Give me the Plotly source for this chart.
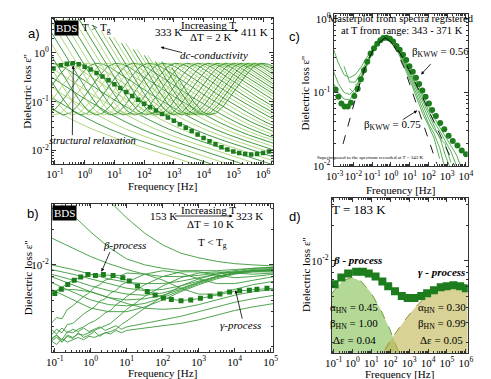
import numpy as np
import plotly.graph_objects as go

W, H = 491, 379
FONT = "Liberation Serif, Times New Roman, serif"

# ---------------- Panel a data ----------------
# peak positions (log10 f) of the structural relaxation, 333 K ... 411 K (step 2 K)
a_peak_logf = [-3.75, -3.16, -2.61, -2.10, -1.62, -1.17, -0.75, -0.35, 0.02, 0.37,
               0.70, 1.02, 1.32, 1.60, 1.87, 2.12, 2.37, 2.60, 2.82, 3.04,
               3.24, 3.43, 3.62, 3.80, 3.97, 4.14, 4.30, 4.45, 4.60, 4.74,
               4.88, 5.01, 5.14, 5.26, 5.38, 5.50, 5.61, 5.72, 5.82, 5.93]
# spectral shape read relative to the loss peak (decades from peak, log10 eps'')
a_shape_dx = [-7.0, -5.0, -4.5, -4.375, -4.25, -4.125, -4.0, -3.875, -3.75, -3.625,
              -3.5, -3.375, -3.25, -3.125, -3.0, -2.875, -2.75, -2.625, -2.5, -2.25,
              -2.0, -1.75, -1.5, -1.25, -1.0, -0.75, -0.5, -0.25, 0.0, 0.25,
              0.5, 0.75, 1.0, 1.5, 2.0, 2.5, 3.0, 3.5, 4.0, 4.5,
              5.0, 6.0, 7.0, 8.0, 9.0, 10.0, 11.0]
a_shape_log = [3.7, 1.7, 1.2, 1.075, 0.95, 0.825, 0.7, 0.575, 0.45, 0.325,
               0.2, 0.075, -0.05, -0.175, -0.3, -0.425, -0.55, -0.675, -0.79, -1.01,
               -1.19, -1.27, -1.23, -1.08, -0.88, -0.655, -0.45, -0.28, -0.21, -0.23,
               -0.3, -0.4, -0.5, -0.7, -0.9, -1.08, -1.26, -1.42, -1.56, -1.68,
               -1.79, -1.99, -2.19, -2.39, -2.59, -2.79, -2.99]
# upper end of the measured dc-conductivity branches
a_dc_cut_logf = [-0.15, 2.64]
a_dc_cut_log = [0.72, -0.18]
# highlighted spectrum (squares)
a_sq_logf = [-1.05, -0.8, -0.6, -0.4, -0.2, 0.0, 0.2, 0.4, 0.6, 0.8, 1.0, 1.2, 1.4,
             1.6, 1.8, 2.0, 2.2, 2.4, 2.6, 2.8, 3.0, 3.2, 3.4, 3.6, 3.8, 4.0, 4.2,
             4.4, 4.6, 4.8, 5.0, 5.2, 5.4, 5.6, 5.8, 6.0, 6.2]
a_sq_log = [-0.32, -0.25, -0.22, -0.21, -0.23, -0.28, -0.34, -0.41, -0.48, -0.56, -0.64,
            -0.72, -0.8, -0.88, -0.96, -1.04, -1.11, -1.18, -1.25, -1.32, -1.39, -1.46,
            -1.53, -1.6, -1.67, -1.74, -1.81, -1.87, -1.93, -1.98, -2.02, -2.05, -2.07,
            -2.08, -2.07, -2.05, -2.02]

# ---------------- Panel b data ----------------
b_grid_logf = [-1.1, -0.5, 0.0, 0.5, 1.0, 1.5, 2.0, 2.5, 3.0, 3.5, 4.0, 4.5, 5.1]
b_curves = {
    173: [-2.22, -2.21, -2.23, -2.28, -2.33, -2.37, -2.38, -2.37, -2.34, -2.30, -2.26, -2.23, -2.21],
    183: [-2.25, -2.13, -2.085, -2.088, -2.13, -2.215, -2.28, -2.306, -2.29, -2.256, -2.226, -2.213, -2.20],
    243: [-2.21, -2.30, -2.37, -2.40, -2.40, -2.36, -2.30, -2.23, -2.17, -2.12, -2.08, -2.06, -2.05],
    253: [-2.15, -2.23, -2.30, -2.34, -2.35, -2.33, -2.28, -2.22, -2.16, -2.11, -2.07, -2.05, -2.05],
    263: [-2.10, -2.17, -2.23, -2.28, -2.30, -2.29, -2.26, -2.21, -2.15, -2.10, -2.07, -2.05, -2.04],
    273: [-2.08, -2.13, -2.18, -2.22, -2.25, -2.26, -2.24, -2.20, -2.15, -2.10, -2.07, -2.05, -2.04],
    283: [-2.04, -2.08, -2.12, -2.16, -2.20, -2.22, -2.21, -2.18, -2.14, -2.10, -2.07, -2.05, -2.04],
    293: [-2.00, -2.04, -2.08, -2.12, -2.15, -2.16, -2.16, -2.14, -2.11, -2.08, -2.06, -2.04, -2.03],
    303: [-1.77, -1.86, -1.93, -1.99, -2.04, -2.08, -2.10, -2.10, -2.09, -2.07, -2.05, -2.03, -2.02],
    313: [-1.40, -1.57, -1.72, -1.85, -1.95, -2.00, -2.03, -2.05, -2.05, -2.05, -2.04, -2.03, -2.02],
    323: [-0.95, -1.15, -1.30, -1.45, -1.60, -1.73, -1.83, -1.90, -1.94, -1.97, -1.99, -2.00, -2.01],
}
# noisier low-signal spectra, read on a finer frequency grid
b_fine_logf = [-1.1, -0.95, -0.8, -0.65, -0.5, -0.35, -0.2, -0.05, 0.1, 0.25, 0.4, 0.55,
               0.7, 0.85, 1.0, 1.5, 2.0, 2.5, 3.0, 3.5, 4.0, 4.5, 5.1]
b_fine_curves = {
    153: [-2.64, -2.60, -2.66, -2.61, -2.63, -2.58, -2.62, -2.60, -2.57, -2.61, -2.58, -2.59,
          -2.56, -2.58, -2.56, -2.54, -2.52, -2.50, -2.47, -2.43, -2.39, -2.36, -2.33],
    163: [-2.55, -2.59, -2.54, -2.58, -2.55, -2.57, -2.54, -2.57, -2.55, -2.53, -2.56, -2.54,
          -2.52, -2.55, -2.53, -2.50, -2.47, -2.44, -2.40, -2.36, -2.32, -2.29, -2.26],
    193: [-2.50, -2.45, -2.46, -2.38, -2.35, -2.31, -2.27, -2.24, -2.19, -2.17, -2.13, -2.12,
          -2.09, -2.09, -2.07, -2.08, -2.13, -2.20, -2.25, -2.25, -2.21, -2.17, -2.14],
    203: [-2.60, -2.55, -2.58, -2.51, -2.50, -2.46, -2.42, -2.39, -2.36, -2.31, -2.29, -2.24,
          -2.22, -2.17, -2.15, -2.08, -2.05, -2.07, -2.12, -2.16, -2.16, -2.13, -2.10],
    213: [-2.63, -2.60, -2.64, -2.57, -2.58, -2.55, -2.53, -2.50, -2.48, -2.45, -2.41, -2.39,
          -2.34, -2.31, -2.27, -2.17, -2.10, -2.06, -2.06, -2.09, -2.11, -2.10, -2.08],
    223: [-2.65, -2.62, -2.66, -2.60, -2.62, -2.59, -2.60, -2.58, -2.56, -2.54, -2.52, -2.50,
          -2.46, -2.42, -2.38, -2.27, -2.18, -2.11, -2.07, -2.06, -2.07, -2.08, -2.07],
    233: [-2.65, -2.68, -2.63, -2.66, -2.64, -2.62, -2.64, -2.61, -2.62, -2.60, -2.58, -2.57,
          -2.55, -2.51, -2.48, -2.37, -2.27, -2.18, -2.12, -2.08, -2.06, -2.06, -2.06],
}
b_sq_logf = [-1.0, -0.82, -0.64, -0.46, -0.28, -0.08, 0.13, 0.35, 0.62, 0.89, 1.07, 1.3, 1.57,
             1.79, 2.02, 2.24, 2.51, 2.78, 3.05, 3.32, 3.59, 3.86, 4.14, 4.41, 4.62, 4.9]
b_sq_log = [-2.244, -2.208, -2.167, -2.131, -2.103, -2.083, -2.092, -2.083, -2.092, -2.111,
            -2.139, -2.181, -2.228, -2.258, -2.283, -2.297, -2.306, -2.3, -2.286, -2.269,
            -2.25, -2.231, -2.222, -2.217, -2.208, -2.2]

# ---------------- Panel c data ----------------
c_dots_logf = [-2.95, -2.8, -2.64, -2.47, -2.3, -2.13, -1.95, -1.77, -1.6, -1.43, -1.26, -1.08,
               -0.9, -0.73, -0.56, -0.4, -0.23, -0.05, 0.12, 0.3, 0.47, 0.65, 0.82, 0.99,
               1.17, 1.34, 1.51, 1.68, 1.85, 2.03, 2.2, 2.4, 2.63, 2.85, 3.08, 3.3, 3.55,
               3.78, 4.01]
c_dots_log = [-0.96, -1.06, -1.15, -1.19, -1.19, -1.14, -1.05, -0.95, -0.82, -0.7, -0.585,
              -0.47, -0.4, -0.34, -0.29, -0.262, -0.256, -0.27, -0.31, -0.37, -0.42, -0.49,
              -0.56, -0.645, -0.72, -0.8, -0.887, -0.975, -1.06, -1.15, -1.24, -1.32,
              -1.417, -1.5, -1.59, -1.66, -1.72, -1.79, -1.84]
c_line_logf = [-3.05, -2.8, -2.5, -2.2, -1.9, -1.6, -1.3, -1.0, -0.7, -0.4, -0.1, 0.2,
               0.5, 0.8, 1.1, 1.4, 1.7, 2.0, 2.3, 2.6, 2.9, 3.2, 3.5, 3.8]
N = None
c_lines = [
    [-0.42, -0.6, -0.76, -0.8, -0.76, -0.66, -0.53, -0.42, -0.33, -0.27, -0.265, -0.33,
     -0.44, -0.58, -0.72, -0.87, -1.03, -1.19, -1.34, -1.47, -1.6, -1.72, -1.85, -2.05],
    [N, N, -0.645, -0.86, -0.86, -0.74, -0.58, -0.44, -0.33, -0.27, -0.265, -0.33,
     -0.45, -0.6, -0.75, -0.91, -1.07, -1.24, -1.4, -1.52, -1.66, -1.8, -2.0, N],
    [-0.72, -0.88, -1.0, -1.03, -0.95, -0.79, -0.61, -0.45, -0.34, -0.27, -0.265, -0.34,
     -0.47, -0.62, -0.78, -0.95, -1.12, -1.29, -1.44, -1.62, -1.7, -1.95, N, N],
    [-0.88, -1.0, -1.09, -1.1, -1.0, -0.82, -0.62, -0.45, -0.34, -0.27, -0.265, -0.34,
     -0.48, -0.64, -0.81, -0.99, -1.17, -1.35, -1.5, -1.6, -1.85, -2.05, N, N],
    [N, N, N, -0.95, -1.02, -0.85, -0.64, -0.46, -0.34, -0.27, -0.265, -0.35,
     -0.5, -0.67, -0.85, -1.04, -1.23, -1.42, -1.56, -1.75, -2.05, N, N, N],
    [N, N, N, N, -0.9, -0.84, -0.65, -0.47, -0.35, -0.27, -0.265, -0.36,
     -0.52, -0.7, -0.89, -1.09, -1.29, -1.45, -1.62, -1.9, N, N, N, N],
]
c_kww075_logf = [-2.55, -2.3, -1.8, -1.3, -0.8, -0.3, 0.2, 0.7, 1.2, 1.7, 2.2, 2.45]
c_kww075_log = [-1.7, -1.46, -1.0, -0.6, -0.36, -0.256, -0.38, -0.66, -1.03, -1.41, -1.78, -1.97]
c_kww056_logf = [-0.3, 0.2, 0.7, 1.2, 1.7, 2.2, 2.7, 3.2, 3.4]
c_kww056_log = [-0.256, -0.356, -0.556, -0.806, -1.076, -1.346, -1.616, -1.896, -2.0]

# ---------------- Panel d data ----------------
d_sq_logf = [-0.95, -0.59, -0.23, 0.19, 0.55, 0.86, 1.22, 1.58, 1.89, 2.25, 2.61, 2.92,
             3.28, 3.64, 3.95, 4.31, 4.67, 4.98, 5.34, 5.70, 6.0]
d_sq_log = [-2.2, -2.142, -2.108, -2.092, -2.092, -2.108, -2.133, -2.175, -2.217, -2.258,
            -2.3, -2.317, -2.317, -2.3, -2.275, -2.25, -2.225, -2.217, -2.208, -2.217, -2.233]
d_beta_logf = [-1.1, -0.55, -0.05, 0.45, 0.95, 1.45, 1.95, 2.45, 2.95, 3.45]
d_beta_log = [-2.278, -2.173, -2.14, -2.173, -2.265, -2.404, -2.574, -2.767, -2.973, -3.19]
d_gamma_logf = [1.2, 1.7, 2.2, 2.7, 3.2, 3.7, 4.2, 4.7, 5.2, 5.7, 6.1]
d_gamma_log = [-2.887, -2.757, -2.633, -2.522, -2.418, -2.334, -2.27, -2.23, -2.217, -2.23, -2.262]

# decade tick exponents of each panel
a_x_dec, a_y_dec = list(range(-1, 7)), [-2, -1, 0]
b_x_dec, b_y_dec = list(range(-1, 6)), [-2]
c_x_dec, c_y_dec = list(range(-3, 5)), [-2, -1, 0]
d_x_dec, d_y_dec = list(range(-1, 7)), [-2]


def P(v):
    return [None if t is None else 10.0 ** t for t in v]


def px(x):
    return x / W


def py(y):
    return 1 - y / H


fig = go.Figure()

DARK = "#2f8f2f"
LIGHT = "#a6d46e"

# panel a curves
dx = np.array(a_shape_dx)
shape = np.array(a_shape_log)
for i, xp in enumerate(a_peak_logf):
    xs = xp + dx
    cut = np.interp(xs, a_dc_cut_logf, a_dc_cut_log)
    keep = (dx >= 0) | (shape <= cut)
    keep &= (xs > -2.5) & (xs < 7.5)
    fig.add_trace(go.Scatter(x=10 ** xs[keep], y=10 ** shape[keep], mode="lines",
                             line=dict(color=DARK if i % 2 else LIGHT, width=0.9),
                             xaxis="x", yaxis="y", hoverinfo="skip"))
fig.add_trace(go.Scatter(x=P(a_sq_logf), y=P(a_sq_log), mode="markers",
                         marker=dict(symbol="square", size=4.5, color="#1d7d1d"),
                         xaxis="x", yaxis="y"))

# panel b curves
for T, vals in b_fine_curves.items():
    fig.add_trace(go.Scatter(x=P(b_fine_logf), y=P(vals), mode="lines",
                             line=dict(color="#3a9a3a", width=0.9),
                             xaxis="x2", yaxis="y2", hoverinfo="skip"))
for T, vals in b_curves.items():
    fig.add_trace(go.Scatter(x=P(b_grid_logf), y=P(vals), mode="lines",
                             line=dict(color="#3a9a3a", width=0.9),
                             xaxis="x2", yaxis="y2", hoverinfo="skip"))
fig.add_trace(go.Scatter(x=P(b_sq_logf), y=P(b_sq_log), mode="markers",
                         marker=dict(symbol="square", size=5, color="#1d7d1d"),
                         xaxis="x2", yaxis="y2"))

# panel c
for vals in c_lines:
    fig.add_trace(go.Scatter(x=P(c_line_logf), y=P(vals), mode="lines",
                             line=dict(color="#45a545", width=0.9),
                             xaxis="x3", yaxis="y3", hoverinfo="skip"))
fig.add_trace(go.Scatter(x=P(c_dots_logf), y=P(c_dots_log), mode="markers",
                         marker=dict(symbol="circle", size=6, color="#1d7d1d"),
                         xaxis="x3", yaxis="y3"))
for xs, ys in ((c_kww075_logf, c_kww075_log), (c_kww056_logf, c_kww056_log)):
    fig.add_trace(go.Scatter(x=P(xs), y=P(ys), mode="lines",
                             line=dict(color="black", width=0.9, dash="dash"),
                             xaxis="x3", yaxis="y3"))

# panel d
for xs, ys, fc, lc in ((d_beta_logf, d_beta_log, "rgba(130,190,80,0.6)", "#6f9a35"),
                       (d_gamma_logf, d_gamma_log, "rgba(190,180,80,0.6)", "#9a8a35")):
    fx = P(xs) + [10 ** xs[-1], 10 ** xs[0]]
    fy = P(ys) + [1e-5, 1e-5]
    fig.add_trace(go.Scatter(x=fx, y=fy, mode="lines", fill="toself", fillcolor=fc,
                             line=dict(width=0), xaxis="x4", yaxis="y4", hoverinfo="skip"))
    fig.add_trace(go.Scatter(x=P(xs), y=P(ys), mode="lines",
                             line=dict(color=lc, width=1, dash="dash"),
                             xaxis="x4", yaxis="y4"))
fig.add_trace(go.Scatter(x=P(d_sq_logf), y=P(d_sq_log), mode="markers",
                         marker=dict(symbol="square", size=8, color="#1d7d1d"),
                         xaxis="x4", yaxis="y4"))


def axis(domain, rng, anchor, decs):
    minor_vals = [m * 10.0 ** k for k in range(decs[0] - 1, decs[-1] + 2) for m in range(2, 10)]
    return dict(type="log", domain=domain, range=rng, anchor=anchor,
                tickmode="array", tickvals=[10.0 ** k for k in decs],
                ticktext=["10<sup>%d</sup>" % k for k in decs], tickangle=0,
                ticks="inside", ticklen=4, tickwidth=1,
                tickcolor="#333", mirror="allticks", showline=True, linecolor="#333",
                linewidth=1, showgrid=False, zeroline=False,
                tickfont=dict(family=FONT, size=11, color="black"),
                minor=dict(ticks="inside", ticklen=2, tickcolor="#333", showgrid=False,
                           tickmode="array", tickvals=minor_vals))


fig.update_layout(
    width=W, height=H, margin=dict(l=0, r=0, t=0, b=0),
    paper_bgcolor="white", plot_bgcolor="white", showlegend=False,
    xaxis=axis([37 / W, 265 / W], [-1.1, 6.35], "y", a_x_dec),
    yaxis=axis([py(157), py(7)], [-2.28, 0.72], "x", a_y_dec),
    xaxis2=axis([37 / W, 265 / W], [-1.08, 5.08], "y2", b_x_dec),
    yaxis2=axis([py(349), py(198)], [-2.742, -1.483], "x2", b_y_dec),
    xaxis3=axis([327 / W, 465 / W], [-3.05, 4.1], "y3", c_x_dec),
    yaxis3=axis([py(159), py(3)], [-2.003, 0.066], "x3", c_y_dec),
    xaxis4=axis([325 / W, 465 / W], [-1.1, 6.1], "y4", d_x_dec),
    yaxis4=axis([py(350), py(192)], [-2.783, -1.467], "x4", d_y_dec),
)

ann = []


def text(t, x, y, size=11, **kw):
    d = dict(text=t, x=px(x), y=py(y), xref="paper", yref="paper", showarrow=False,
             xanchor="center", yanchor="middle",
             font=dict(family=FONT, size=size, color=kw.pop("color", "black")))
    d.update(kw)
    ann.append(d)


def arrow(tip, tail, head=2):
    ann.append(dict(text="", x=px(tip[0]), y=py(tip[1]), xref="paper", yref="paper",
                    showarrow=True, ax=tail[0] - tip[0], ay=tail[1] - tip[1],
                    arrowhead=head, arrowsize=0.8, arrowwidth=0.8, arrowcolor="black"))


# panel labels
for lab, x, y in (("a)", 10, 13), ("b)", 9, 207), ("c)", 287, 16), ("d)", 287, 210)):
    ann.append(dict(text=lab, x=px(x), y=py(y), xref="paper", yref="paper",
                    showarrow=False, font=dict(family="Liberation Sans, Arial, sans-serif",
                                               size=13, color="black")))

# axis titles
for x, y in ((11, 82), (12, 273), (298, 84), (298, 270)):
    text("Dielectric loss ε''", x, y, 11, textangle=-90)
for x, y in ((151, 179), (151, 371), (396, 183), (395, 372)):
    text("Frequency [Hz]", x, y, 11)

# panel a texts
text("BDS", 52, 17, 11, color="white", bgcolor="black", borderpad=1)
text("T > T<sub>g</sub>", 83, 17, 11)
text("333 K", 157, 21, 11)
text("Increasing T", 198, 14, 11)
text("ΔT = 2 K", 201, 27, 11)
text("411 K", 245, 21, 11)
arrow((229, 20), (170, 20))
text("<i>dc-conductivity</i>", 204, 45, 11)
arrow((149, 37), (172, 43))
text("<i>structural relaxation</i>", 79, 133, 10.5)
arrow((59, 56), (58, 127))

# panel b texts
text("BDS", 50, 207, 11, color="white", bgcolor="black", borderpad=1)
text("153 K", 152, 210, 11)
text("Increasing T", 198, 204, 11)
text("ΔT = 10 K", 200, 218, 11)
text("323 K", 240, 210, 11)
arrow((223, 210), (164, 210))
text("T < T<sub>g</sub>", 202, 238, 11)
text("<i>β-process</i>", 112, 240, 11)
arrow((88, 267), (97, 246))
text("<i>γ-process</i>", 231, 322, 11)
arrow((226, 286), (233, 316))

# panel c texts
text("Masterplot from spectra registered", 396, 8, 10.5)
text("at T from range: 343 - 371 K", 397, 20, 10.5)
text("β<sub>KWW</sub> = 0.56", 437, 42, 11)
arrow((417, 65), (428, 53))
text("β<sub>KWW</sub> = 0.75", 388, 117, 11)
arrow((413, 102), (397, 112))
text("Superimposed to the spectrum recorded at T = 343 K", 364, 150, 5)

# panel d texts
text("T = 183 K", 353, 203, 13)
text("<b><i>β - process</i></b>", 352, 255, 11)
text("<b><i>γ - process</i></b>", 438, 267, 11)
for x, vals in ((348, ("0.45", "1.00", "0.04")), (438, ("0.30", "0.99", "0.05"))):
    text("α<sub>HN</sub> = " + vals[0], x, 304, 11)
    text("β<sub>HN</sub> = " + vals[1], x, 321, 11)
    text("Δε = " + vals[2], x, 337, 11)

fig.update_layout(annotations=ann)
fig.write_html("out.html")
